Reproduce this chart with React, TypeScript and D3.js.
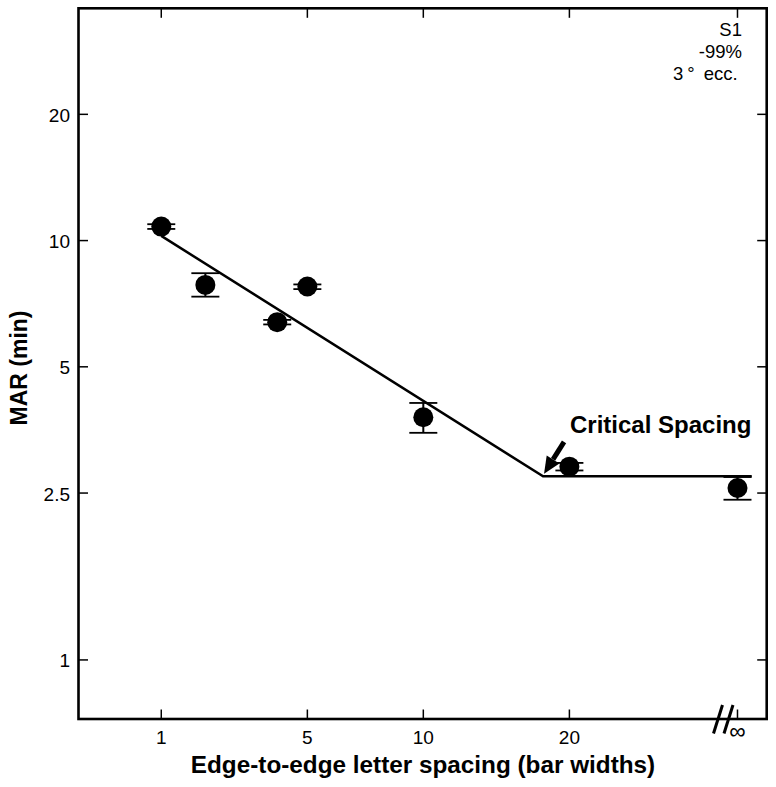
import React from "react";
import * as d3 from "d3";

// ---- Data ----
const LETTER_WIDTH = 5; // x plotted as log(edge spacing + letter width)
const INF_POS = 40; // plot position used for "∞"
const spacing = [1, 2, 4, 5, 10, 20, INF_POS];
const marMean = [10.8, 7.84, 6.39, 7.77, 3.79, 2.89, 2.57];
const marLow = [10.66, 7.35, 6.31, 7.66, 3.48, 2.83, 2.41];
const marHigh = [10.94, 8.36, 6.47, 7.86, 4.1, 2.95, 2.73];
const fitSpacing = [1, 17.8, 42.3];
const fitMar = [10.26, 2.74, 2.74];
const xTicks = [1, 5, 10, 20, INF_POS];
const xTickLabels = ["1", "5", "10", "20", "∞"];
const yTicks = [1, 2.5, 5, 10, 20];
const yTickLabels = ["1", "2.5", "5", "10", "20"];
const infoLines = ["S1", "-99%"];
const eccLabel = ["3", "°", "ecc."];
const criticalSpacing = 17.8;

const FONT = "'Liberation Sans', Arial, Helvetica, sans-serif";

export default function App() {
  const W = 776,
    H = 787;
  const L = 78.5,
    R = 766.7,
    T = 8.3,
    B = 719;
  const xLog = d3.scaleLog().domain([4.492, 49.84]).range([L, R]);
  const x = (s: number) => xLog(s + LETTER_WIDTH);
  const y = d3.scaleLog().domain([0.723, 35.8]).range([B, T]);

  const fitLine = d3
    .line<number>()
    .x((_, i) => x(fitSpacing[i]))
    .y((d) => y(d));

  const tickLen = 9.5;
  const capHW = 14;

  // arrow geometry
  const tipX = x(criticalSpacing) + 1;
  const tipY = y(fitMar[1]) - 2.5;
  const tailX = tipX + 20;
  const tailY = tipY - 32;
  const ang = Math.atan2(tipY - tailY, tipX - tailX);
  const headLen = 17,
    headHW = 7.5;
  const bx = tipX - headLen * Math.cos(ang);
  const by = tipY - headLen * Math.sin(ang);
  const px = -Math.sin(ang),
    py = Math.cos(ang);

  const infX = x(INF_POS);

  return (
    <svg
      width={W}
      height={H}
      style={{ position: "absolute", left: 0, top: 0, background: "#fff" }}
      fontFamily={FONT}
    >
      <rect x={0} y={0} width={W} height={H} fill="#fff" />
      {/* ticks */}
      {yTicks.map((t, i) => (
        <g key={"y" + i}>
          <line x1={L} x2={L + tickLen} y1={y(t)} y2={y(t)} stroke="#000" strokeWidth={1.5} />
          <line x1={R} x2={R - tickLen} y1={y(t)} y2={y(t)} stroke="#000" strokeWidth={1.5} />
          <text x={70} y={y(t) + 7.5} fontSize={19} textAnchor="end">
            {yTickLabels[i]}
          </text>
        </g>
      ))}
      {xTicks.map((t, i) => (
        <g key={"x" + i}>
          <line x1={x(t)} x2={x(t)} y1={B} y2={B - tickLen} stroke="#000" strokeWidth={1.5} />
          <line x1={x(t)} x2={x(t)} y1={T} y2={T + tickLen} stroke="#000" strokeWidth={1.5} />
          {t === INF_POS ? (
            <text x={x(t)} y={738.5} fontSize={23} textAnchor="middle">
              {xTickLabels[i]}
            </text>
          ) : (
            <text x={x(t)} y={744} fontSize={19} textAnchor="middle">
              {xTickLabels[i]}
            </text>
          )}
        </g>
      ))}
      {/* frame */}
      <rect x={L} y={T} width={R - L} height={B - T} fill="none" stroke="#000" strokeWidth={2.6} />
      {/* axis break */}
      <line x1={infX - 24} y1={733.5} x2={infX - 15} y2={705} stroke="#000" strokeWidth={3} />
      <line x1={infX - 13.5} y1={733.5} x2={infX - 4.5} y2={705} stroke="#000" strokeWidth={3} />

      {/* fit line */}
      <path d={fitLine(fitMar) || ""} fill="none" stroke="#000" strokeWidth={2.5} />

      {/* error bars & points */}
      {spacing.map((s, i) => (
        <g key={"p" + i}>
          <line x1={x(s)} x2={x(s)} y1={y(marLow[i])} y2={y(marHigh[i])} stroke="#000" strokeWidth={2} />
          <line x1={x(s) - capHW} x2={x(s) + capHW} y1={y(marLow[i])} y2={y(marLow[i])} stroke="#000" strokeWidth={1.8} />
          <line x1={x(s) - capHW} x2={x(s) + capHW} y1={y(marHigh[i])} y2={y(marHigh[i])} stroke="#000" strokeWidth={1.8} />
          <circle cx={x(s)} cy={y(marMean[i])} r={10} fill="#000" />
        </g>
      ))}

      {/* arrow */}
      <line x1={tailX} y1={tailY} x2={bx} y2={by} stroke="#000" strokeWidth={5} />
      <polygon
        points={`${tipX},${tipY} ${bx + px * headHW},${by + py * headHW} ${bx - px * headHW},${by - py * headHW}`}
        fill="#000"
      />
      <text x={570} y={433} fontSize={24} fontWeight="bold">
        Critical Spacing
      </text>

      {/* info text */}
      {infoLines.map((t, i) => (
        <text key={"i" + i} x={742} y={36 + i * 22} fontSize={18.5} textAnchor="end">
          {t}
        </text>
      ))}
      <text x={673} y={80} fontSize={18.5}>
        {eccLabel[0]}
        <tspan dx={4}>{eccLabel[1]}</tspan>
        <tspan dx={9}>{eccLabel[2]}</tspan>
      </text>

      {/* axis titles */}
      <text x={423} y={773} fontSize={24.3} fontWeight="bold" textAnchor="middle">
        Edge-to-edge letter spacing (bar widths)
      </text>
      <text
        transform={`translate(27,368) rotate(-90)`}
        fontSize={23}
        fontWeight="bold"
        textAnchor="middle"
      >
        MAR (min)
      </text>
    </svg>
  );
}
